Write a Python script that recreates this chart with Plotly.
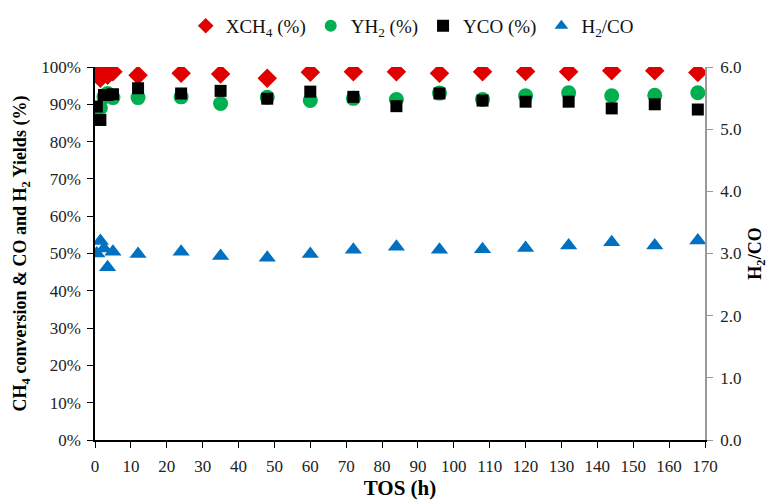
import plotly.graph_objects as go

tos = [0.5, 1.5, 2.5, 3.5, 5, 12, 24, 35, 48, 60, 72, 84, 96, 108, 120, 132, 144, 156, 168]
xch4 = [98.0, 97.0, 98.6, 97.8, 98.7, 97.8, 98.3, 98.1, 97.0, 98.6, 98.7, 98.7, 98.3, 98.7, 98.8, 98.7, 99.0, 99.0, 98.5]
yh2 = [87.1, 89.0, 92.0, 92.9, 91.8, 91.8, 92.0, 90.2, 91.9, 91.0, 91.6, 91.3, 93.0, 91.3, 92.3, 93.1, 92.3, 92.4, 93.1]
yco = [89.4, 85.8, 92.5, 92.5, 92.7, 94.3, 92.9, 93.6, 91.5, 93.4, 92.0, 89.5, 92.9, 91.0, 90.7, 90.7, 88.9, 90.0, 88.6]
h2co = [3.0, 3.2, 3.08, 2.78, 3.03, 2.99, 3.03, 2.96, 2.93, 2.99, 3.06, 3.11, 3.06, 3.07, 3.09, 3.13, 3.18, 3.13, 3.21]

x_ticks = list(range(0, 171, 10))
y_ticks = list(range(0, 101, 10))
y2_ticks = [0, 1, 2, 3, 4, 5, 6]

FONT = "Liberation Serif"
TICKFONT = dict(family=FONT, size=17, color="#222")

fig = go.Figure()
fig.add_trace(go.Scatter(x=tos, y=xch4, mode="markers", name="XCH<sub>4</sub> (%)",
                         marker=dict(symbol="diamond", size=15, color="#E00000")))
fig.add_trace(go.Scatter(x=tos, y=yh2, mode="markers", name="YH<sub>2</sub> (%)",
                         marker=dict(symbol="circle", size=15, color="#00B050")))
fig.add_trace(go.Scatter(x=tos, y=yco, mode="markers", name="YCO (%)",
                         marker=dict(symbol="square", size=12, color="#000000")))
fig.add_trace(go.Scatter(x=tos, y=h2co, mode="markers", name="H<sub>2</sub>/CO", yaxis="y2",
                         marker=dict(symbol="triangle-up", size=15, color="#0070C0")))

fig.update_layout(
    width=768, height=500,
    margin=dict(l=95, r=63, t=67, b=60, autoexpand=False),
    paper_bgcolor="white", plot_bgcolor="white",
    font=dict(family=FONT, size=17, color="#222"),
    showlegend=True,
    legend=dict(orientation="h", x=0.52, xanchor="center", y=1.11, yanchor="middle",
                font=dict(family=FONT, size=19, color="#111"), itemsizing="constant",
                tracegroupgap=0, itemwidth=30),
    xaxis=dict(range=[0, 170], tickvals=x_ticks, ticktext=[str(v) for v in x_ticks],
               showgrid=False, zeroline=False, showline=True, linecolor="black", linewidth=1.5,
               ticks="outside", ticklen=6, tickcolor="black", tickfont=TICKFONT,
               ticklabelstandoff=4, automargin=False,
               title=dict(text="<b>TOS (h)</b>", font=dict(family=FONT, size=21, color="black"), standoff=6)),
    yaxis=dict(range=[0, 100], tickvals=y_ticks, ticktext=[f"{v}%" for v in y_ticks],
               showgrid=False, zeroline=False, showline=True, linecolor="black", linewidth=1.5,
               ticks="outside", ticklen=6, tickcolor="black", tickfont=TICKFONT,
               ticklabelstandoff=3, automargin=False,
               title=dict(text="<b>CH<sub>4</sub> conversion &amp; CO and H<sub>2</sub> Yields (%)</b>",
                          font=dict(family=FONT, size=18, color="black"), standoff=10)),
    yaxis2=dict(range=[0, 6], tickvals=y2_ticks, ticktext=[f"{v:.1f}" for v in y2_ticks],
                overlaying="y", side="right", anchor="x",
                showgrid=False, zeroline=False, showline=True, linecolor="#999", linewidth=1.5,
                ticks="outside", ticklen=6, tickcolor="#999", tickfont=TICKFONT,
                ticklabelstandoff=4, automargin=False,
                title=dict(text="<b>H<sub>2</sub>/CO</b>", font=dict(family=FONT, size=18, color="black"), standoff=16)),
)

fig.write_html("out.html")
